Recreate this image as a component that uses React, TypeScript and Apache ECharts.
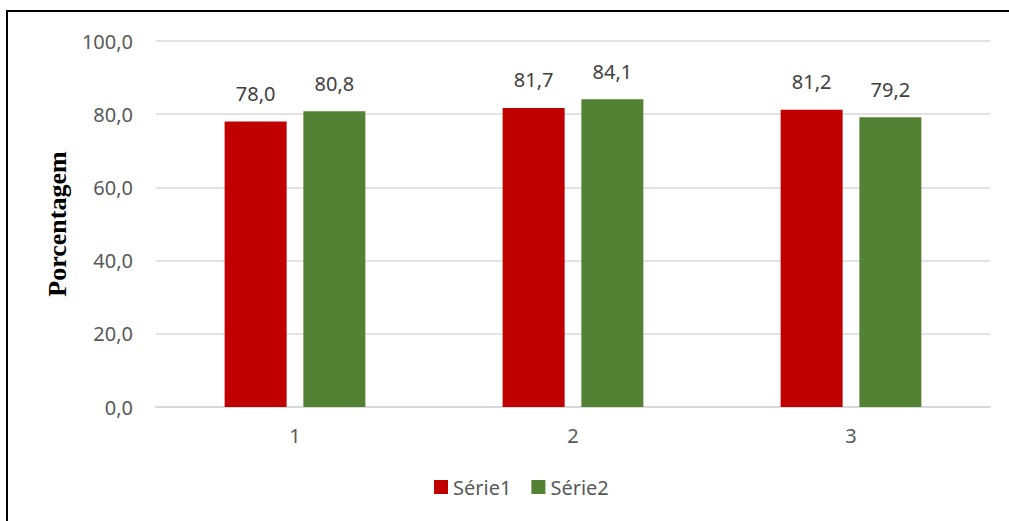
import React, { useEffect, useRef } from "react";
import * as echarts from "echarts";

const categories = ["1", "2", "3"];
const serie1 = [78.0, 81.7, 81.2];
const serie2 = [80.8, 84.1, 79.2];
const seriesNames = ["Série1", "Série2"];
const yAxisTitle = "Porcentagem";

const fmt = (v: number) => v.toFixed(1).replace(".", ",");

export default function App() {
  const ref = useRef<HTMLDivElement>(null);
  useEffect(() => {
    document.body.style.margin = "0";
    const chart = echarts.init(ref.current!, null, { renderer: "svg" });
    const labelStyle = {
      show: true,
      position: "top" as const,
      distance: 18,
      color: "#404040",
      fontSize: 20,
      fontFamily: "Noto Sans",
      formatter: (p: any) => fmt(p.value),
    };
    chart.setOption({
      animation: false,
      backgroundColor: "#ffffff",
      color: ["#c00000", "#548235"],
      graphic: [
        {
          type: "rect",
          shape: { x: 7, y: 11, width: 1020, height: 530 },
          style: { fill: "none", stroke: "#000000", lineWidth: 2 },
          silent: true,
        },
      ],
      grid: { left: 156, right: 19, top: 41, bottom: 114 },
      legend: {
        bottom: 19,
        left: 429,
        itemWidth: 14,
        itemHeight: 14,
        itemGap: 20,
        icon: "rect",
        textStyle: { color: "#595959", fontSize: 20, fontFamily: "Noto Sans" },
        data: seriesNames,
      },
      xAxis: {
        type: "category",
        data: categories,
        axisLine: { lineStyle: { color: "#d9d9d9", width: 2 } },
        axisTick: { show: false },
        axisLabel: { color: "#595959", fontSize: 20, fontFamily: "Noto Sans", margin: 18 },
      },
      yAxis: {
        type: "value",
        min: 0,
        max: 100,
        interval: 20,
        name: yAxisTitle,
        nameLocation: "middle",
        nameGap: 81,
        nameTextStyle: {
          fontFamily: "Liberation Serif",
          fontWeight: "bold",
          fontSize: 26,
          color: "#000000",
        },
        axisLine: { show: false },
        axisTick: { show: false },
        splitLine: { lineStyle: { color: "#d9d9d9", width: 1.5 } },
        axisLabel: {
          color: "#595959",
          fontSize: 20,
          fontFamily: "Noto Sans",
          margin: 23,
          formatter: (v: number) => fmt(v),
        },
      },
      series: [
        {
          name: seriesNames[0],
          type: "bar",
          data: serie1,
          barWidth: 62,
          barGap: "27%",
          label: labelStyle,
        },
        {
          name: seriesNames[1],
          type: "bar",
          data: serie2,
          barWidth: 62,
          barGap: "27%",
          label: labelStyle,
        },
      ],
    });
    return () => chart.dispose();
  }, []);
  return <div ref={ref} style={{ width: 1009, height: 521 }} />;
}
